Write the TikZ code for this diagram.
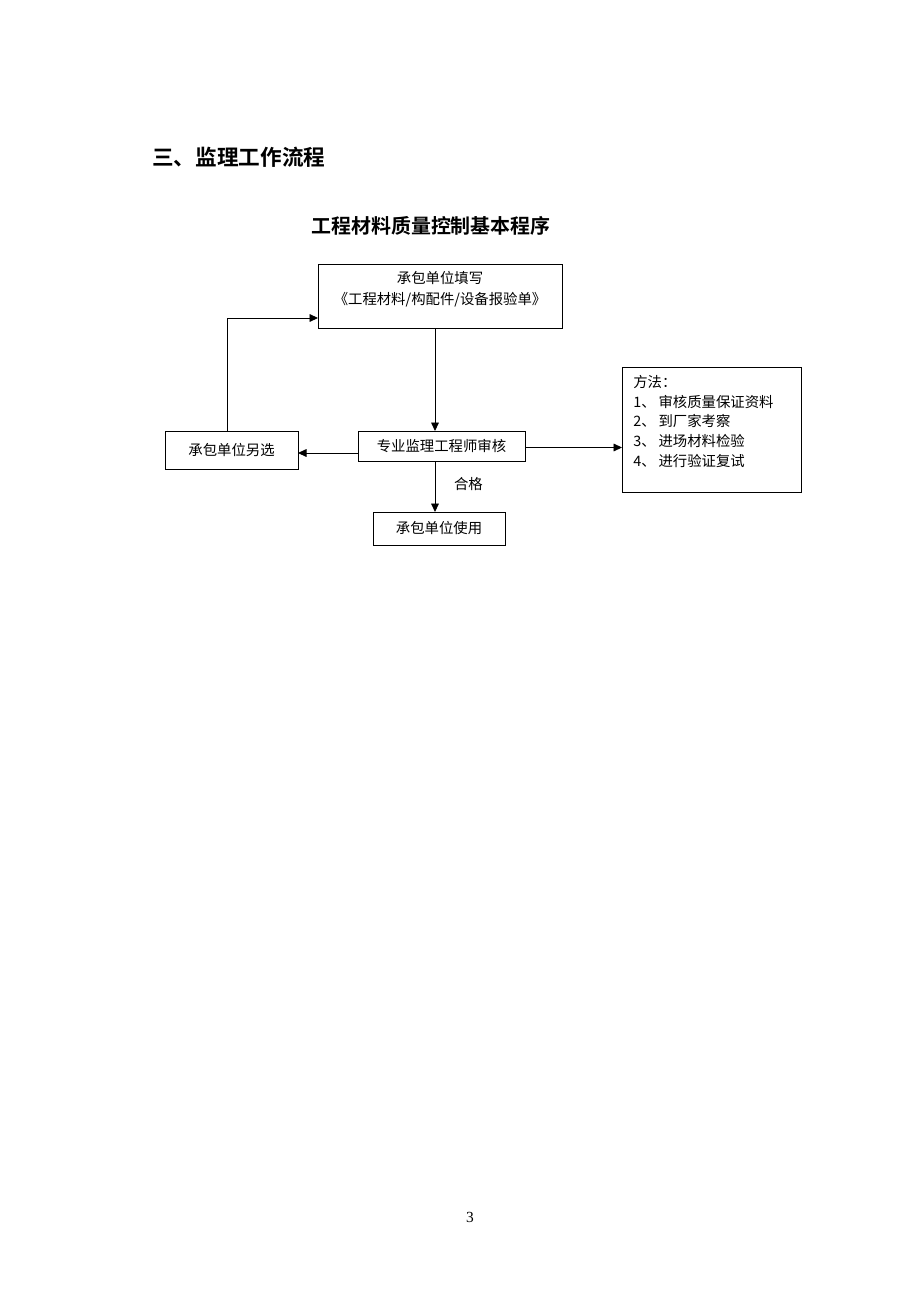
\documentclass[tikz,border=0pt]{standalone}
\usepackage{fontspec}
\newfontfamily\cjk[BoldFont=* Bold]{Noto Sans CJK SC}
\setmainfont{Liberation Serif}
\usetikzlibrary{arrows.meta}
\tikzset{
  box/.style={draw,line width=0.6pt,rectangle,inner sep=0pt,font=\cjk\fontsize{9.3pt}{13.6pt}\selectfont,align=center},
  arr/.style={line width=0.6pt,-{Triangle[length=5.5pt,width=5pt]}},
  ln/.style={line width=0.6pt}
}
\begin{document}
\begin{tikzpicture}[x=0.647pt,y=-0.647pt]
\useasboundingbox (0,0) rectangle (920,1302);
\node[anchor=west,font=\cjk\bfseries\fontsize{14pt}{16pt}\selectfont,inner sep=0pt] (h) at (152,157) {三、监理工作流程};
\node[font=\cjk\bfseries\fontsize{12.9pt}{15pt}\selectfont,inner sep=0pt] (t) at (431,226) {工程材料质量控制基本程序};
\node[box,minimum width=244*0.647pt,minimum height=64*0.647pt] (a) at (440,296) {};
\node[font=\cjk\fontsize{9.3pt}{13.6pt}\selectfont,align=center,inner sep=0pt,anchor=north] (at) at (440,271) {承包单位填写\\《工程材料/构配件/设备报验单》};
\node[box,minimum width=167*0.647pt,minimum height=30*0.647pt] (b) at (441.5,446) {专业监理工程师审核};
\node[box,minimum width=133*0.647pt,minimum height=38*0.647pt] (c) at (231.5,450) {承包单位另选};
\node[box,minimum width=132*0.647pt,minimum height=33*0.647pt] (d) at (439,528.5) {承包单位使用};
\node[box,minimum width=179*0.647pt,minimum height=125*0.647pt] (m) at (711.5,429.5) {};
\node[font=\cjk\fontsize{9.3pt}{12.75pt}\selectfont,align=left,inner sep=0pt,anchor=north west] (mt) at (633,375) {方法：\\1、\hspace{0.2em}审核质量保证资料\\2、\hspace{0.2em}到厂家考察\\3、\hspace{0.2em}进场材料检验\\4、\hspace{0.2em}进行验证复试};
\coordinate (ab) at (435,328);
\coordinate (bt) at (435,431);
\draw[arr] (ab) -- (bt);
\coordinate (bl) at (358,453);
\coordinate (cr) at (298,453);
\draw[arr] (bl) -- (cr);
\coordinate (ct) at (227,431);
\coordinate (corner) at (227,318);
\coordinate (al) at (318,318);
\draw[ln] (ct) -- (corner);
\draw[arr] (corner) -- (al);
\coordinate (br) at (525,447.5);
\coordinate (ml) at (622,447.5);
\draw[arr] (br) -- (ml);
\coordinate (bb) at (435,461);
\coordinate (dt) at (435,512);
\draw[arr] (bb) -- (dt) node[pos=0.45,right=12pt,font=\cjk\fontsize{9.3pt}{12pt}\selectfont,inner sep=0pt] (q) {合格};
\node[font=\fontsize{10pt}{12pt}\selectfont,inner sep=0pt] (p) at (470,1217) {3};
\end{tikzpicture}
\end{document}
